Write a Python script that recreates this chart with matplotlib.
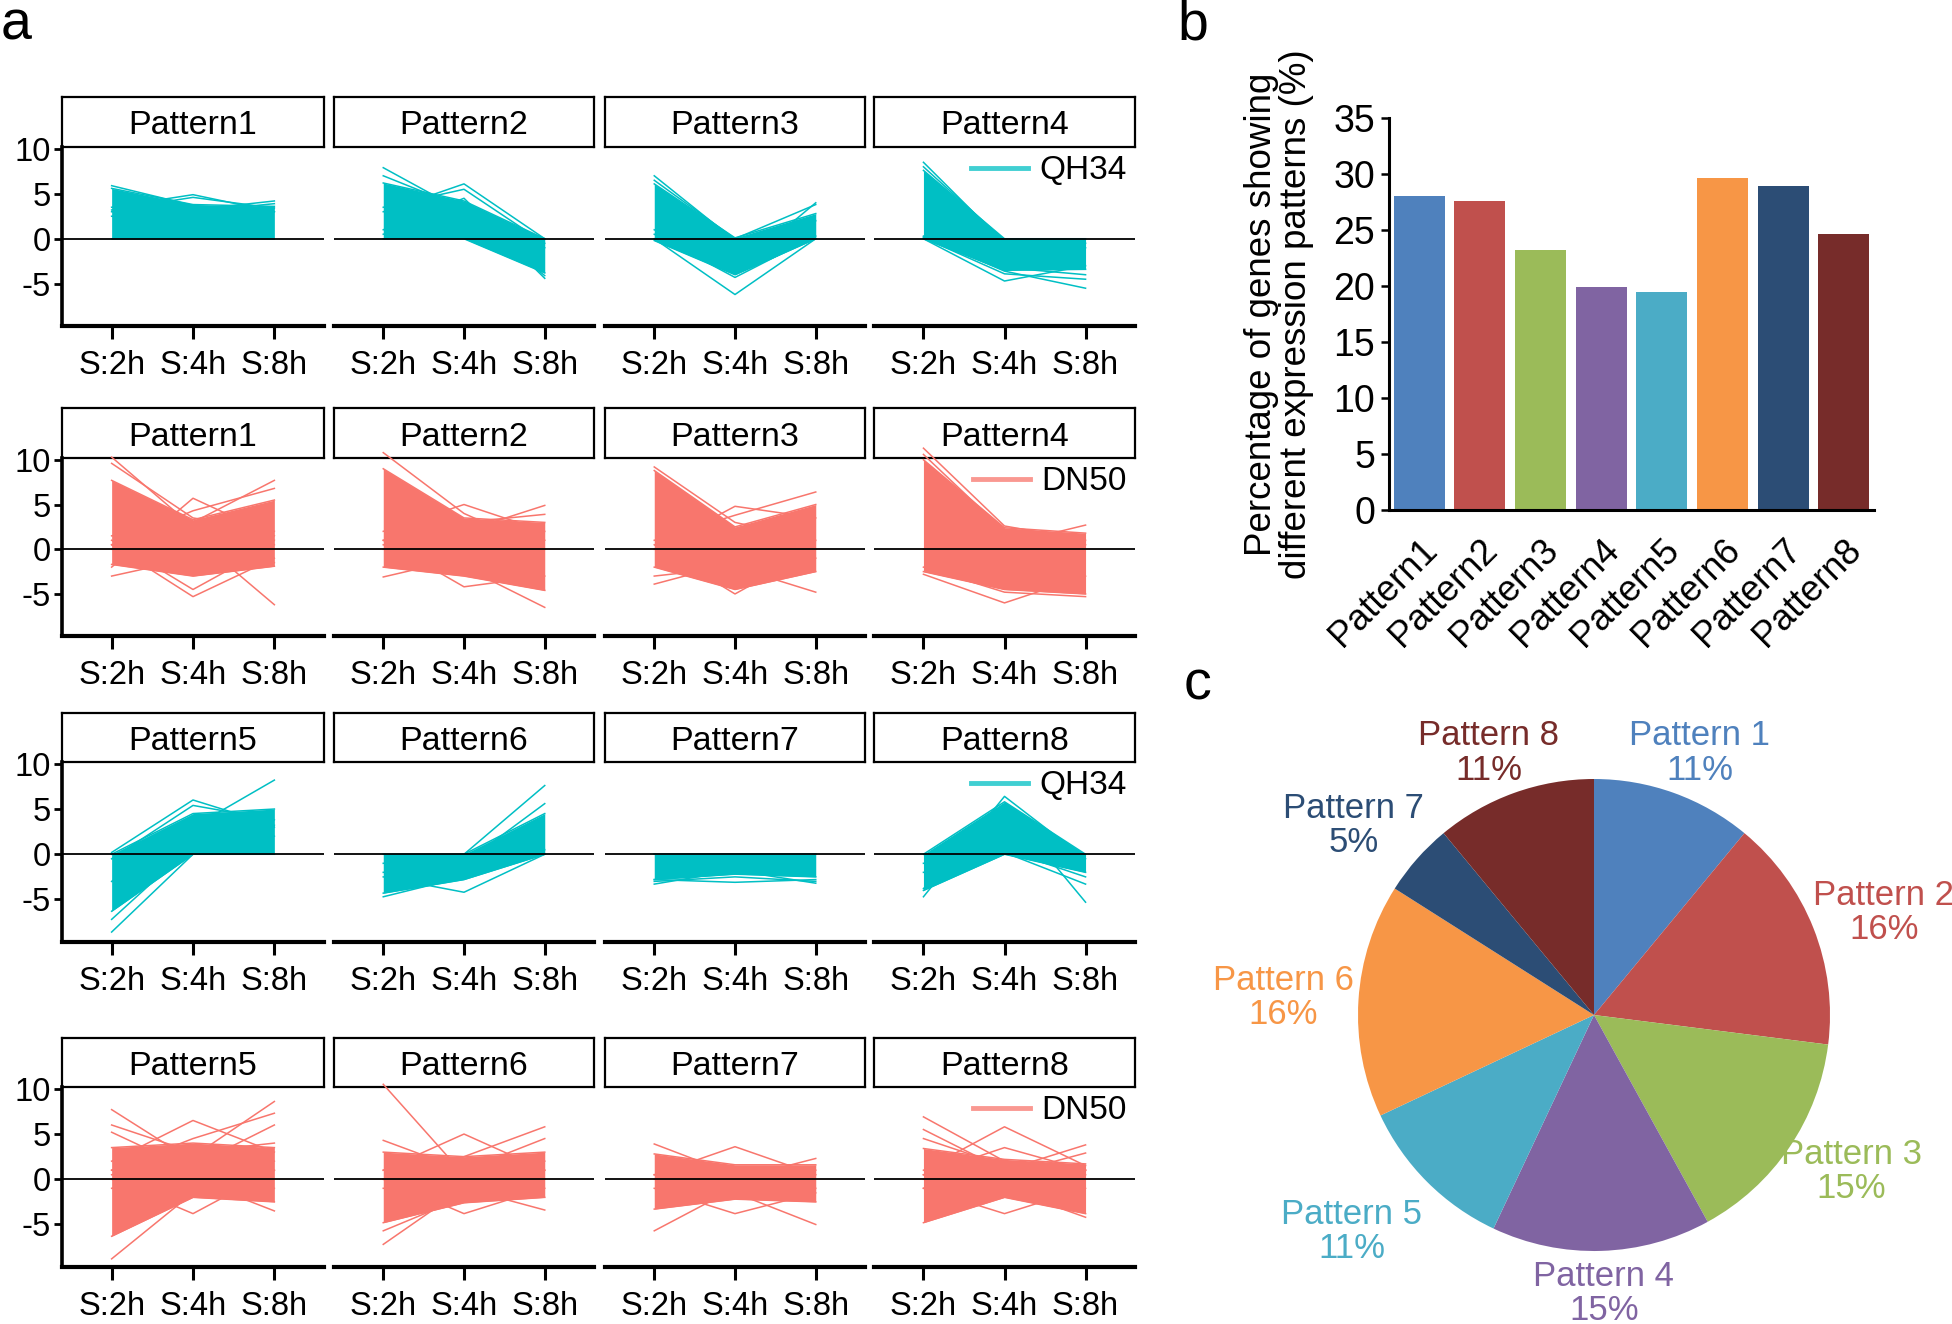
import numpy as np
import matplotlib
matplotlib.use('Agg')
import matplotlib.pyplot as plt
from matplotlib.lines import Line2D

plt.rcParams['font.family'] = ['Liberation Sans', 'DejaVu Sans']

# ---- data ----
TIMES = ['S:2h', 'S:4h', 'S:8h']
PATTERNS = ['Pattern1', 'Pattern2', 'Pattern3', 'Pattern4',
            'Pattern5', 'Pattern6', 'Pattern7', 'Pattern8']

# panel a: each pattern = dense band of profiles (low / high edge) + stray profiles
QH34_LO = [[0, 0, 0], [0, 0, -3.8], [-0.2, -4.0, 0], [0, -3.5, -3.4],
           [-6.3, 0, 0], [-4.3, -2.8, 0], [-2.8, -2.2, -2.5], [-4.0, 0, -2.0]]
QH34_HI = [[5.6, 3.8, 3.6], [6.2, 4.2, 0], [6.1, 0.1, 2.8], [7.6, 0, 0],
           [0, 4.5, 5.0], [0, 0, 4.5], [0, 0, 0], [0, 5.8, 0]]
QH34_STRAY = [
    [[5.9, 3.7, 3.0], [3.5, 4.9, 3.0], [3.2, 4.6, 3.4], [3.0, 3.2, 4.2], [2.5, 3.0, 3.9]],
    [[7.9, 3.0, 0], [7.0, 3.4, -1.0], [3.0, 6.1, 0], [3.5, 5.5, -0.5], [1.0, 4.5, -4.4], [0.5, 3.0, -4.1]],
    [[0, -6.2, 0], [0.5, -4.3, 0.3], [7.0, -0.2, 2.0], [6.5, 0, 3.8], [1.0, -3.5, 4.0]],
    [[8.5, -0.5, -1.0], [8.0, -0.2, -0.5], [0, -4.7, -3.0], [0.1, -3.9, -4.5], [0.3, -3.6, -5.5], [0.2, -3.2, -4.0]],
    [[-3.0, 3.0, 8.2], [-8.6, 0, 3.0], [-7.2, 1.0, 2.0], [0.2, 6.0, 3.2], [-0.5, 5.4, 3.8]],
    [[-4.7, -2.5, 0.5], [-2.5, -4.2, 0], [-1.0, 0, 7.6], [-2.0, -1.0, 5.6]],
    [[-3.3, -1.8, -3.2], [-2.8, -3.1, -2.8], [-3.0, -2.5, -3.0]],
    [[-4.7, 6.4, -0.5], [-3.8, 5.5, -5.3], [-2.0, 0.2, -3.3], [-1.0, 0.5, -2.5]],
]

DN50_LO = [[-1.7, -3.0, -1.9], [-2.0, -3.0, -4.6], [-2.0, -4.5, -2.5], [-2.5, -4.5, -5.0],
           [-6.3, -2.0, -2.5], [-4.8, -2.6, -2.0], [-3.3, -2.2, -2.5], [-4.8, -2.0, -3.8]]
DN50_HI = [[7.7, 3.3, 5.5], [9.0, 3.5, 3.0], [8.8, 2.5, 5.0], [10.0, 2.4, 1.8],
           [3.5, 4.0, 3.5], [3.0, 2.5, 3.0], [2.8, 1.6, 1.6], [3.4, 2.2, 1.7]]
DN50_STRAY = [
    [[10.3, 2.5, 1.0], [9.6, 3.5, 2.0], [-2.0, 5.7, 1.5], [-3.0, -1.0, -1.5], [0.5, -5.3, -1.0],
     [1.0, -4.5, 0.5], [0, 1.5, -6.2], [1.5, 3.0, 7.7], [0.5, 4.3, 6.8]],
    [[10.8, 4.0, 0], [-3.1, -1.0, 1.0], [2.0, 5.0, 2.0], [1.0, -4.2, -3.0], [0, 2.0, 4.9],
     [1.0, 3.0, 3.9], [0.5, -2.0, -6.5]],
    [[9.2, 3.0, 1.0], [-3.9, -1.5, -1.0], [-3.0, -2.0, -4.8], [0, 4.8, 3.5], [1.0, 3.8, 6.4],
     [0.5, -5.0, 0]],
    [[11.3, 2.6, 1.0], [10.6, 2.0, 0.5], [-2.8, -6.0, -3.0], [-2.0, -4.8, -5.3], [0, 0.5, 2.7]],
    [[7.7, 2.0, 1.0], [6.0, 3.0, 4.0], [5.2, 1.0, 2.0], [-8.8, -1.5, -1.0], [2.0, 6.5, 3.0],
     [0, -3.8, 1.0], [0.5, 2.5, 8.6], [1.0, 4.5, 7.3], [-1.0, 1.5, 6.0], [1.0, 0, -3.5]],
    [[10.5, 0.5, 1.0], [4.3, 1.0, 2.0], [-7.2, -1.0, 0], [-5.7, -2.0, 0], [1.0, 5.0, 1.0],
     [0, -3.8, -1.0], [1.0, 2.5, 5.8], [0, 1.0, 4.5], [-1.0, -1.0, -3.4]],
    [[3.9, 0.5, 1.0], [-5.7, -1.0, -1.0], [0.5, 3.6, 0.5], [-1.0, -3.8, -1.5], [0, 0, 2.3],
     [0.5, -1.5, -5.0]],
    [[6.9, 2.0, 1.0], [5.5, 1.0, 0.5], [4.5, 1.5, 1.0], [1.0, 5.8, 1.5], [0.5, 3.5, 1.0],
     [-1.0, -3.8, -1.0], [0, 1.0, 3.8], [0.5, 0.5, 2.9], [-1.0, -1.0, -4.2]],
]

# panel b
BAR_PCT = [28.0, 27.6, 23.2, 19.9, 19.5, 29.6, 28.9, 24.6]
# panel c
PIE_NAMES = ['Pattern 1', 'Pattern 2', 'Pattern 3', 'Pattern 4',
             'Pattern 5', 'Pattern 6', 'Pattern 7', 'Pattern 8']
PIE_SHARE = [11, 16, 15, 15, 11, 16, 5, 11]

PAT_COLORS = ['#4F81BD', '#C0504D', '#9BBB59', '#8064A2',
              '#4BACC6', '#F79646', '#2C4D75', '#772C2A']
QH34_COLOR = '#00BFC4'
DN50_COLOR = '#F8766D'

# ---- figure ----
W, H = 1952, 1324
fig = plt.figure(figsize=(W / 100, H / 100), dpi=100)


def px_axes(x0, y0, x1, y1, **kw):
    return fig.add_axes([x0 / W, 1 - y1 / H, (x1 - x0) / W, (y1 - y0) / H], **kw)


COL_X = [(62, 324), (334, 594), (605, 865), (874, 1135)]
ROW_Y = [(97, 147, 326), (408, 458, 636), (713, 762, 942), (1038, 1087, 1267)]
rows = [('QH34', QH34_COLOR, QH34_LO, QH34_HI, QH34_STRAY, 0),
        ('DN50', DN50_COLOR, DN50_LO, DN50_HI, DN50_STRAY, 0),
        ('QH34', QH34_COLOR, QH34_LO, QH34_HI, QH34_STRAY, 4),
        ('DN50', DN50_COLOR, DN50_LO, DN50_HI, DN50_STRAY, 4)]

x = np.arange(1, 4)
for r, (name, col, lo_all, hi_all, stray_all, off) in enumerate(rows):
    st, top, bot = ROW_Y[r]
    for c in range(4):
        k = off + c
        x0, x1 = COL_X[c]
        sax = px_axes(x0, st, x1, top)
        sax.set_xticks([])
        sax.set_yticks([])
        for s in sax.spines.values():
            s.set_linewidth(1.6)
        sax.text(0.5, 0.42, PATTERNS[k], ha='center', va='center', fontsize=24.5,
                 transform=sax.transAxes)

        ax = px_axes(x0, top, x1, bot, zorder=3)
        ax.patch.set_alpha(0)
        ax.fill_between(x, lo_all[k], hi_all[k], color=col, lw=0, clip_on=False)
        ax.plot(x, lo_all[k], color=col, lw=1.1, clip_on=False)
        ax.plot(x, hi_all[k], color=col, lw=1.1, clip_on=False)
        for prof in stray_all[k]:
            ax.plot(x, prof, color=col, lw=1.1, clip_on=False)
        ax.axhline(0, color='black', lw=1.3)
        ax.set_xlim(0.39, 3.61)
        ax.set_ylim(-9.7, 10.2)
        ax.set_xticks(x)
        ax.set_xticklabels(TIMES, fontsize=23.5)
        ax.tick_params(axis='x', length=9, width=2.2, pad=8)
        ax.spines['top'].set_visible(False)
        ax.spines['right'].set_visible(False)
        ax.spines['bottom'].set_linewidth(3)
        if c == 0:
            ax.set_yticks([10, 5, 0, -5])
            ax.set_yticklabels(['10', '5', '0', '-5'], fontsize=23.5)
            ax.tick_params(axis='y', length=6, width=2, pad=2)
            ax.spines['left'].set_linewidth(2.6)
        else:
            ax.set_yticks([])
            ax.spines['left'].set_visible(False)
        if c == 3:
            ax.legend(handles=[Line2D([], [], color=col, lw=3.5, alpha=0.75)], labels=[name],
                      loc='upper right', frameon=False, fontsize=24, handlelength=1.7,
                      handletextpad=0.35, borderaxespad=0.05, borderpad=0.2)

fig.text(16 / W, 1 - 26 / H, 'a', fontsize=40, ha='center', va='center')
fig.text(1193 / W, 1 - 26 / H, 'b', fontsize=40, ha='center', va='center')
fig.text(1198 / W, 1 - 685 / H, 'c', fontsize=40, ha='center', va='center')

# ---- panel b ----
bax = px_axes(1389, 118, 1874, 510)
pos = np.arange(len(BAR_PCT))
bax.bar(pos, BAR_PCT, width=0.84, color=PAT_COLORS)
bax.set_xlim(-0.5, 7.5)
bax.set_ylim(0, 35)
bax.set_yticks(range(0, 36, 5))
bax.tick_params(axis='y', labelsize=27, length=6, width=1.8, pad=4)
bax.set_xticks(pos)
bax.set_xticklabels(PATTERNS, rotation=45, ha='right', rotation_mode='anchor', fontsize=26)
bax.tick_params(axis='x', length=0, pad=16)
bax.spines['top'].set_visible(False)
bax.spines['right'].set_visible(False)
bax.spines['left'].set_linewidth(2.2)
bax.spines['bottom'].set_linewidth(2.2)
bax.set_ylabel('Percentage of genes showing\ndifferent expression patterns (%)',
               fontsize=26.5, labelpad=14, linespacing=1.0)

# ---- panel c ----
R = 236
cx, cy = 1594, 1015
pax = px_axes(cx - R, cy - R, cx + R, cy + R)
wedges, _ = pax.pie(PIE_SHARE, colors=PAT_COLORS, startangle=90, counterclock=False,
                    radius=1.0, wedgeprops=dict(linewidth=0))
pax.set_xlim(-1, 1)
pax.set_ylim(-1, 1)
LABEL_RX, LABEL_RY = 1.32, 1.18
LABEL_PUSH = [1.0, 1.0, 1.0, 1.0, 1.1, 1.0, 1.03, 1.0]
for w, nm, sh, colr, push in zip(wedges, PIE_NAMES, PIE_SHARE, PAT_COLORS, LABEL_PUSH):
    ang = np.deg2rad((w.theta1 + w.theta2) / 2)
    pax.text(push * LABEL_RX * np.cos(ang), push * LABEL_RY * np.sin(ang), f'{nm}\n{sh}%',
             color=colr, fontsize=25, ha='center', va='center', linespacing=1.05)

fig.savefig('out.png', dpi=100)
